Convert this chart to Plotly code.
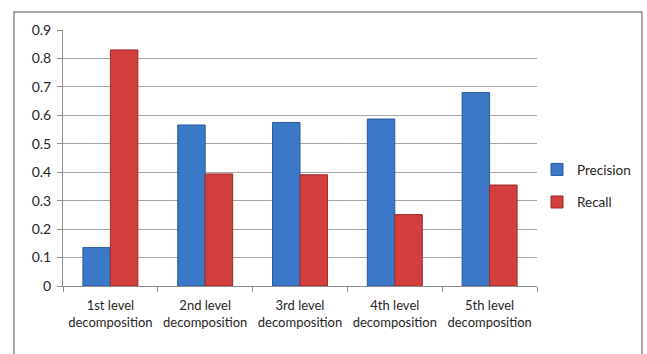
import plotly.graph_objects as go

# Category labels and scores per decomposition level
categories = [
    "1st level<br>decomposition",
    "2nd level<br>decomposition",
    "3rd level<br>decomposition",
    "4th level<br>decomposition",
    "5th level<br>decomposition",
]
precision = [0.135, 0.566, 0.575, 0.587, 0.680]
recall = [0.830, 0.394, 0.391, 0.251, 0.355]
y_ticks = [0, 0.1, 0.2, 0.3, 0.4, 0.5, 0.6, 0.7, 0.8, 0.9]

FONT = "Lato"
BLUE = "#3b78c7"
BLUE_EDGE = "#2a5a9a"
RED = "#d23f3d"
RED_EDGE = "#9c2b2a"

fig = go.Figure()
fig.add_trace(go.Bar(
    name="Precision", x=categories, y=precision, legendgroup="p",
    marker=dict(color=BLUE, line=dict(color=BLUE_EDGE, width=1)),
))
fig.add_trace(go.Bar(
    name="Recall", x=categories, y=recall, legendgroup="r",
    marker=dict(color=RED, line=dict(color=RED_EDGE, width=1)),
))

# Outer chart frame
fig.add_shape(
    type="rect", xref="paper", yref="paper",
    x0=-0.1034, x1=1.2215, y0=-0.35, y1=1.0704,
    line=dict(color="#8c8c8c", width=1.5), fillcolor="rgba(0,0,0,0)",
    layer="above",
)

fig.update_layout(
    width=647, height=354,
    margin=dict(l=63, r=110, t=30, b=68, autoexpand=False),
    paper_bgcolor="white", plot_bgcolor="white",
    barmode="group", bargap=0.42, bargroupgap=0.0,
    font=dict(family=FONT, size=13, color="#262626"),
    legend=dict(
        x=1.0, y=0.39, xanchor="left", yanchor="middle",
        traceorder="grouped", tracegroupgap=12,
        bgcolor="rgba(0,0,0,0)",
        font=dict(family=FONT, size=13.5, color="#262626"),
        itemwidth=30,
    ),
    showlegend=True,
)
fig.update_xaxes(
    showline=True, linecolor="#8c8c8c", linewidth=1,
    ticks="outside", tickson="boundaries", ticklen=5, tickcolor="#8c8c8c",
    showgrid=False, ticklabelstandoff=7, tickangle=0, automargin=False,
    tickfont=dict(family=FONT, size=13),
)
fig.update_yaxes(
    range=[0, 0.9], tickvals=y_ticks, ticktext=[f"{v:g}" for v in y_ticks],
    showline=True, linecolor="#8c8c8c", linewidth=1,
    ticks="outside", ticklen=5, tickcolor="#8c8c8c",
    showgrid=True, gridcolor="#a6a6a6", gridwidth=1,
    zeroline=False, ticklabelstandoff=3, automargin=False,
    tickfont=dict(family=FONT, size=14),
)

fig.write_html("out.html")
